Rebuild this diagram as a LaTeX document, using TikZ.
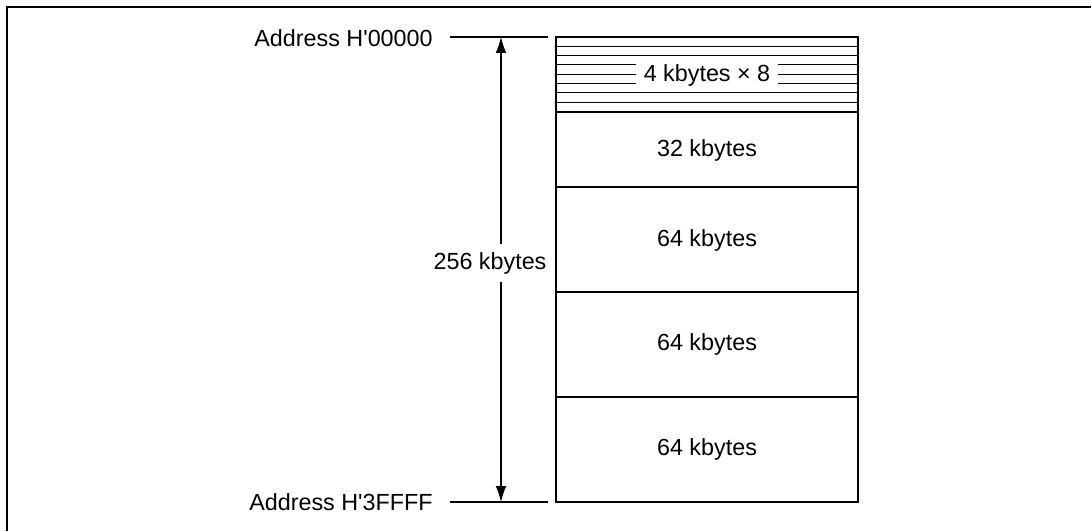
\documentclass[tikz,border=0pt]{standalone}
\usepackage{fontspec}
\setmainfont{Liberation Sans}
\usetikzlibrary{arrows.meta}
\tikzset{
  txt/.style={font=\fontsize{17.5}{20}\selectfont, inner sep=0pt},
  mem/.style={line width=0.8pt},
  addr/.style={txt, anchor=east, outer xsep=13pt},
  sizetip/.tip={Latex[length=12pt,width=8pt]},
}
\begin{document}
\begin{tikzpicture}[x=0.75pt,y=-0.75pt]
\useasboundingbox (0,0) rectangle (1091,531);
% frame, only its top and left edges fall inside the page
\draw[line width=1.2pt] (1100,7) -- (7,7) -- (7,540);
% memory map
\coordinate (mtl) at (556,37);
\coordinate (mbr) at (858,502);
\draw[mem] (mtl) rectangle (mbr);
\foreach \k in {1,...,7} \draw[mem] (556,{37+\k*9.3}) -- (858,{37+\k*9.3});
\foreach \y in {112,187,292,397} \draw[mem] (556,\y) -- (858,\y);
\node[txt,fill=white,inner xsep=6pt,inner ysep=2pt] (blk4) at (707,75) {4 kbytes × 8};
\node[txt] (blk32) at (707,150) {32 kbytes};
\node[txt] (blk64a) at (707,240) {64 kbytes};
\node[txt] (blk64b) at (707,344) {64 kbytes};
\node[txt] (blk64c) at (707,449) {64 kbytes};
% start and end addresses
\node[addr] (addr0) at (450,38) {Address H\textquotesingle 00000};
\node[addr] (addr1) at (450,502) {Address H\textquotesingle 3FFFF};
\coordinate (a0end) at (548,37);
\coordinate (a1end) at (548,502);
\draw[mem] (addr0.east |- a0end) -- (a0end);
\draw[mem] (addr1.east |- a1end) -- (a1end);
% size arrow
\coordinate (atop) at (501,37);
\coordinate (abot) at (501,502);
\draw[mem,sizetip-sizetip] (atop) -- (abot);
\node[txt,fill=white,inner xsep=2pt,inner ysep=6pt] (size) at (490,263) {256 kbytes};
\end{tikzpicture}
\end{document}
